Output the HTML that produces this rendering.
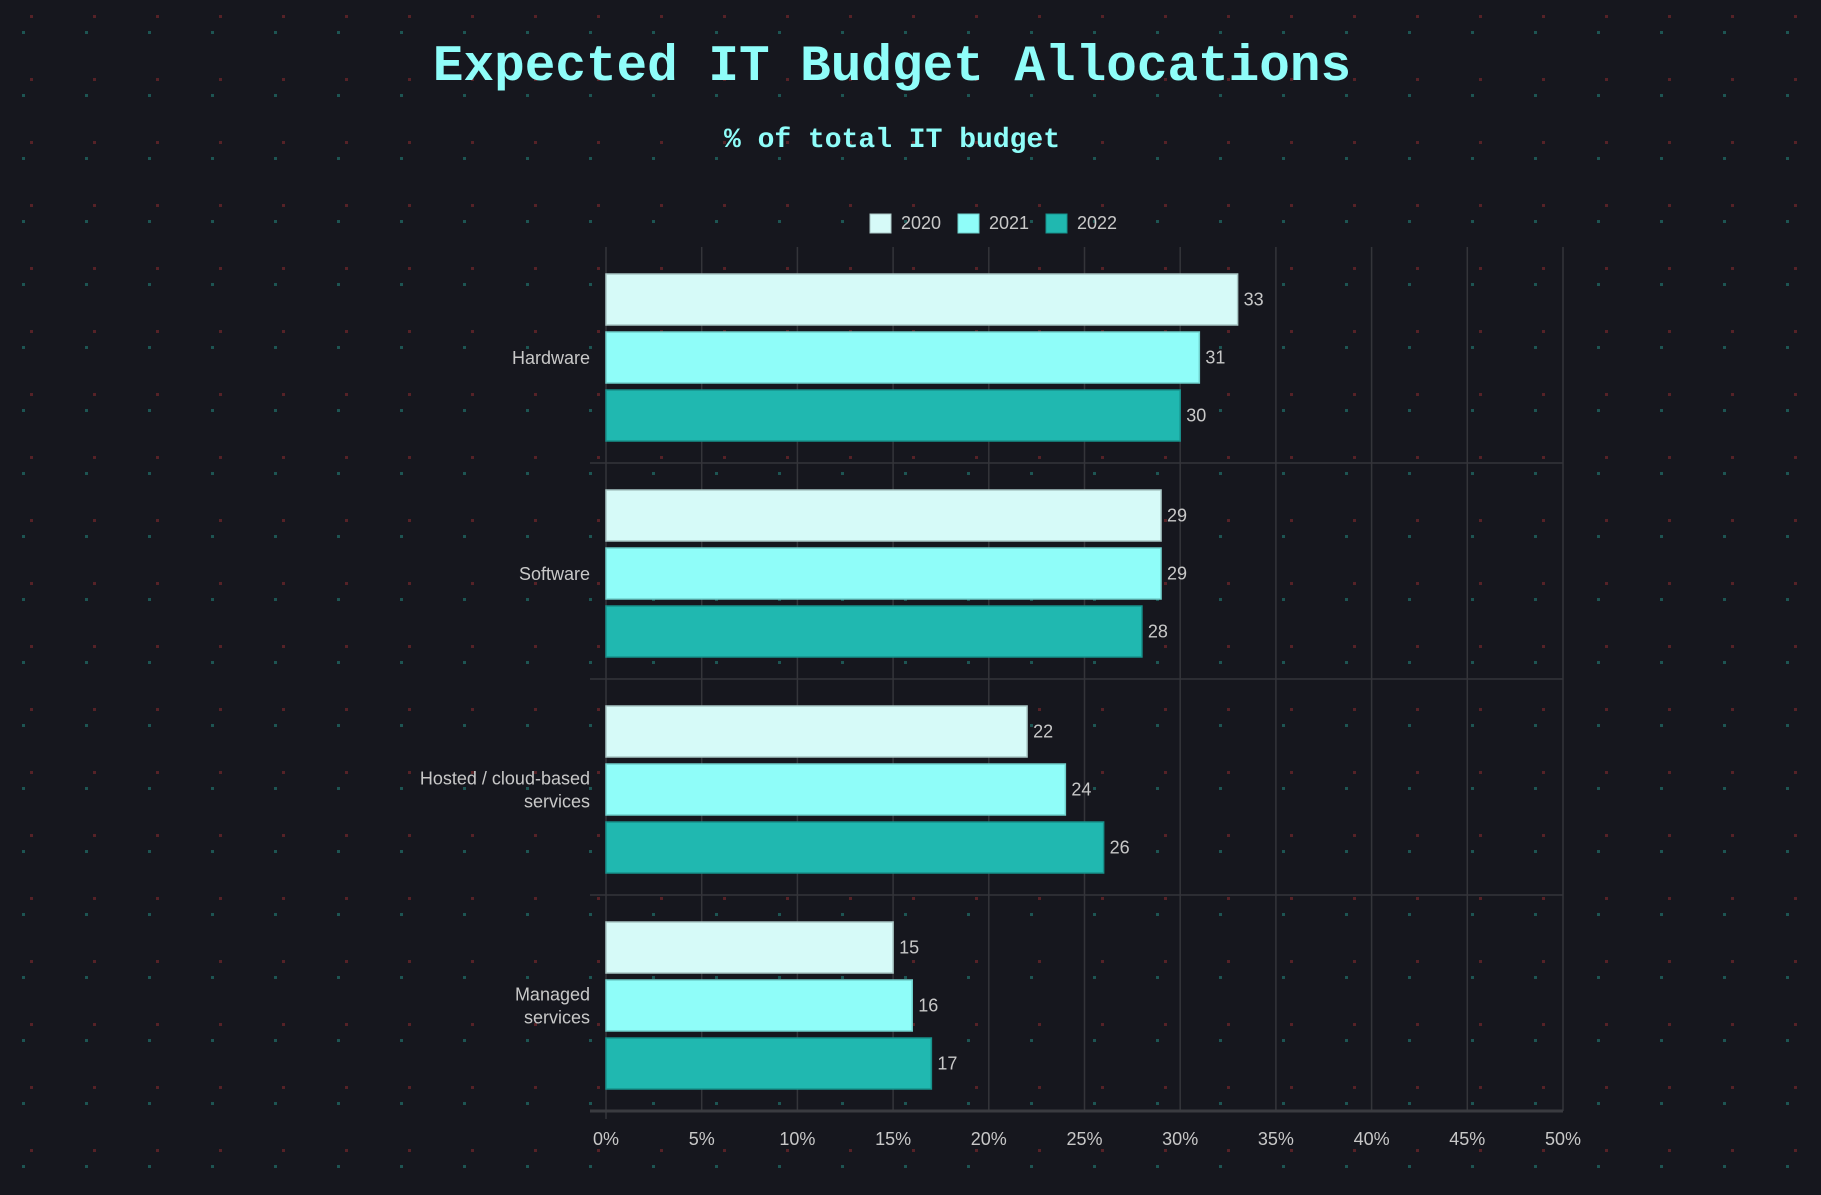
<!DOCTYPE html>
<html><head><meta charset="utf-8">
<style>
html,body{margin:0;padding:0;background:#16171e;}
body{width:1821px;height:1195px;overflow:hidden;position:relative;font-family:"Liberation Sans",sans-serif;}
svg{position:absolute;left:0;top:0;}
</style></head>
<body>
<svg id="chart" width="1821" height="1195" xmlns="http://www.w3.org/2000/svg">
<defs>
<pattern id="dots" x="0" y="0" width="63" height="63" patternUnits="userSpaceOnUse">
<rect x="22" y="31" width="3" height="3" fill="#1d5553"/>
<rect x="30" y="15" width="3" height="3" fill="#562227"/>
</pattern>
</defs>
<rect width="1821" height="1195" fill="#16171e"/>
<rect width="1821" height="1195" fill="url(#dots)"/>
<text x="892" y="80" text-anchor="middle" font-family="Liberation Mono, monospace" font-weight="bold" font-size="51" fill="#8ffdf9">Expected IT Budget Allocations</text>
<text x="892" y="147" text-anchor="middle" font-family="Liberation Mono, monospace" font-weight="bold" font-size="28" fill="#8ffdf9">% of total IT budget</text>
<g id="legend"></g>
<g id="grid"></g>
<g id="bars"></g>
<g id="labels"></g>
</svg>
<script>
const categories = ["Hardware", "Software", "Hosted / cloud-based|services", "Managed|services"];
const seriesNames = ["2020", "2021", "2022"];
const values2020 = [33, 29, 22, 15];
const values2021 = [31, 29, 24, 16];
const values2022 = [30, 28, 26, 17];
const tickValues = [0, 5, 10, 15, 20, 25, 30, 35, 40, 45, 50];
const tickLabels = ["0%", "5%", "10%", "15%", "20%", "25%", "30%", "35%", "40%", "45%", "50%"];

const NS = "http://www.w3.org/2000/svg";
const colors = ["#d6faf8", "#8ffdf9", "#20b8b0"];
const strokes = ["#a9c7c5", "#6fd0cc", "#17928c"];
const xLeft = 606, xRight = 1563, yTop = 247, yBottom = 1111;
const xMax = 50;
const groupH = (yBottom - yTop) / categories.length;
function xs(v){ return xLeft + (xRight - xLeft) * v / xMax; }
function mk(tag, attrs, parent){ const e = document.createElementNS(NS, tag); for (const k in attrs) e.setAttribute(k, attrs[k]); parent.appendChild(e); return e; }

const gridG = document.getElementById('grid');
const barsG = document.getElementById('bars');
const labelsG = document.getElementById('labels');
const legendG = document.getElementById('legend');

tickValues.forEach((t, i) => {
  const gl = mk('line', {x1: xs(t), x2: xs(t), y1: yTop, y2: yBottom + (i === 0 ? 8 : 0), stroke: "#34353a", 'stroke-width': 1.5}, gridG);
  
  
  const tl = mk('text', {x: xs(t), y: 1145, 'text-anchor': 'middle', 'font-size': 18, fill: '#c8c8c8'}, labelsG);
  tl.textContent = tickLabels[i];
  
  
});
for (let g = 1; g <= categories.length; g++) {
  const y = yTop + g * groupH;
  const sl = mk('line', {x1: 590, x2: xRight, y1: y, y2: y, stroke: g === categories.length ? "#3a3b40" : "#34353a", 'stroke-width': g === categories.length ? 3 : 1.5}, gridG);
  
  
}

const allSeries = [values2020, values2021, values2022];
const barH = 51, barStep = 58, barOff = 27;
categories.forEach((cat, ci) => {
  const gy = yTop + ci * groupH;
  allSeries.forEach((vals, si) => {
    const y = gy + barOff + si * barStep;
    const r = mk('rect', {x: xLeft, y: y, width: xs(vals[ci]) - xLeft, height: barH, fill: colors[si], stroke: strokes[si], 'stroke-width': 1.5}, barsG);
    
    
    const vl = mk('text', {x: xs(vals[ci]) + 6, y: y + barH / 2 + 6, 'font-size': 18, fill: '#c8c8c8'}, labelsG);
    vl.textContent = vals[ci];
    
    
  });
  const lines = cat.split('|');
  const cy = gy + groupH / 2 + 3;
  lines.forEach((ln, li) => {
    const t = mk('text', {x: 590, y: cy + 6 + (li - (lines.length - 1) / 2) * 23, 'text-anchor': 'end', 'font-size': 18, fill: '#c8c8c8'}, labelsG);
    t.textContent = ln;
    
    
  });
});

const legendX = [870, 958, 1046];
seriesNames.forEach((n, i) => {
  const b = mk('rect', {x: legendX[i], y: 214, width: 21, height: 19, fill: colors[i], stroke: strokes[i], 'stroke-width': 1}, legendG);
  
  
  const t = mk('text', {x: legendX[i] + 31, y: 229, 'font-size': 18, fill: '#c8c8c8'}, legendG);
  t.textContent = n;
  
  
});
</script>
</body></html>
